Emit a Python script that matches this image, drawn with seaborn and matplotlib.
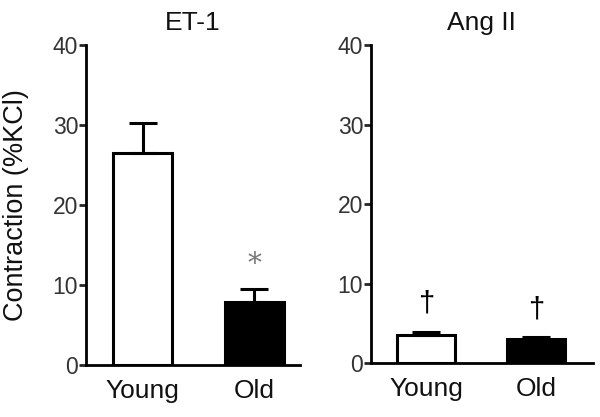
import matplotlib
matplotlib.use("Agg")
import matplotlib.pyplot as plt
import seaborn as sns
import pandas as pd

groups = ["Young", "Old"]
et1_mean = [26.5, 7.9]
et1_sem = [3.8, 1.6]
ang_mean = [3.6, 3.1]
ang_sem = [0.35, 0.2]
et1_marks = ["", "*"]
ang_marks = ["†", "†"]
titles = ["ET-1", "Ang II"]
yticks = [0, 10, 20, 30, 40]

sns.set_style("white")
plt.rcParams['font.family'] = ['Liberation Sans', 'DejaVu Sans']

fig = plt.figure(figsize=(6, 4.17), dpi=100)
ax1 = fig.add_axes([0.143, 0.125, 0.357, 0.767])
ax2 = fig.add_axes([0.618, 0.129, 0.370, 0.763])

panels = [
    (ax1, et1_mean, et1_sem, et1_marks, titles[0], (-0.51, 1.41), True),
    (ax2, ang_mean, ang_sem, ang_marks, titles[1], (-0.50, 1.51), False),
]

for ax, means, sems, marks, title, xl, ylab in panels:
    df = pd.DataFrame({"group": groups, "value": means})
    sns.barplot(data=df, x="group", y="value", hue="group",
                palette=["white", "black"], edgecolor="black", linewidth=2.2,
                width=0.525, ax=ax, legend=False, errorbar=None)
    ax.errorbar([0, 1], means, yerr=[[0, 0], sems], fmt="none",
                ecolor="black", elinewidth=2.2, capsize=10, capthick=2.2, zorder=1)
    for i, m in enumerate(marks):
        if m == "*":
            ax.text(i, means[i] + sems[i] + 3.0, m, ha="center", va="center",
                    fontsize=20, color="#777", family=['DejaVu Serif'])
        elif m:
            ax.text(i, means[i] + sems[i] + 3.5, m, ha="center", va="center",
                    fontsize=21, color="black")
    ax.set_xlim(*xl)
    ax.set_ylim(0, 40)
    ax.set_yticks(yticks)
    ax.set_xlabel("")
    if ylab:
        ax.set_ylabel("Contraction (%KCl)", fontsize=19.5, color="#111", labelpad=17)
    else:
        ax.set_ylabel("")
    ax.set_title(title, fontsize=19, color="#111", pad=11)
    for s in ["top", "right"]:
        ax.spines[s].set_visible(False)
    for s in ["left", "bottom"]:
        ax.spines[s].set_linewidth(2.0)
        ax.spines[s].set_color("black")
    ax.tick_params(axis="y", direction="out", length=5, width=2, left=True,
                   labelsize=16.5, labelcolor="#333", pad=0.5)
    ax.tick_params(axis="x", length=0, labelsize=19, labelcolor="#111", pad=10)

fig.savefig("out.png", dpi=100)
